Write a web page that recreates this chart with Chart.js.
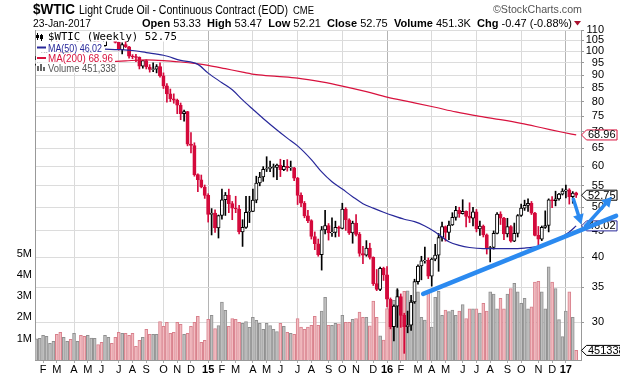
<!DOCTYPE html>
<html>
<head>
<meta charset="utf-8">
<title>$WTIC weekly</title>
<script src="https://cdn.jsdelivr.net/npm/chart.js@4.4.1/dist/chart.umd.min.js"></script>
<style>
  html, body { margin: 0; padding: 0; background: #fff; }
  canvas { display: block; }
</style>
</head>
<body>
<canvas id="chart" width="620" height="376"></canvas>
<script>
const FONT = '"Liberation Sans", Arial, sans-serif';

// weekly bars, first visible week starts Monday 20-Jan-2014
const firstWeek = '2014-01-20';
const prevClose = 94.4;

const opens = [
  94.4, 96.6, 97.5, 99.9, 100.3, 102.2, 102.6, 102.5, 98.9, 99.5,
  101.7, 101.1, 103.7, 104.3, 100.6, 99.8, 100.0, 102.0, 104.4, 102.7,
  102.6, 106.9, 107.3, 105.7, 104.1, 100.8, 103.1, 102.1, 97.9, 97.7,
  97.4, 93.7, 96.0, 93.3, 92.3, 92.4, 93.5, 89.7, 85.8, 82.8,
  81.0, 80.5, 78.7, 75.8, 76.5, 66.2, 65.8, 57.8, 56.5, 54.7,
  52.7, 48.4, 48.7, 45.6, 48.2, 51.7, 52.8, 50.8, 49.8, 49.6,
  44.8, 45.7, 48.9, 49.1, 51.6, 55.7, 57.2, 59.2, 59.4, 59.7,
  59.7, 60.3, 59.1, 60.0, 59.6, 59.6, 56.9, 52.7, 50.9, 48.1,
  47.1, 43.9, 42.5, 40.5, 45.2, 46.1, 44.6, 44.7, 45.7, 45.5,
  49.6, 47.3, 44.6, 46.6, 44.3, 40.7, 40.4, 41.7, 40.0, 35.6,
  34.7, 38.1, 37.0, 33.2, 29.4, 32.2, 33.6, 30.9, 29.4, 29.6,
  32.8, 35.9, 38.5, 39.4, 39.5, 36.8, 39.7, 40.4, 43.7, 45.9,
  44.7, 46.2, 47.8, 49.3, 48.6, 49.1, 48.0, 47.6, 49.0, 45.4,
  46.0, 44.2, 41.6, 41.8, 44.5, 48.5, 47.6, 44.4, 45.9, 43.0,
  44.5, 48.2, 49.8, 50.4, 50.9, 48.7, 44.1, 43.4, 45.7, 46.1,
  51.7, 51.5, 51.9, 53.0, 53.7, 54.0, 52.4, 53.33
];
const highs = [
  97.8, 98.2, 100.0, 100.7, 103.4, 103.0, 105.2, 102.9, 100.5, 102.0,
  101.9, 104.0, 104.9, 104.5, 101.6, 101.0, 102.4, 104.5, 104.6, 104.1,
  107.7, 107.7, 107.5, 106.2, 104.2, 103.9, 105.0, 102.3, 98.6, 98.7,
  97.6, 96.1, 96.3, 94.3, 95.1, 94.3, 95.0, 90.9, 86.7, 84.6,
  82.8, 80.9, 79.5, 77.0, 76.6, 69.7, 66.6, 58.0, 57.7, 55.2,
  53.1, 49.7, 49.4, 48.3, 54.2, 53.4, 54.2, 51.3, 52.5, 50.4,
  47.3, 52.5, 52.5, 54.2, 57.4, 58.4, 59.9, 62.6, 61.4, 60.6,
  60.6, 61.9, 61.6, 61.8, 61.4, 59.7, 57.1, 53.3, 51.3, 49.3,
  47.3, 44.8, 43.4, 45.9, 49.3, 46.5, 47.7, 47.0, 46.0, 50.9,
  49.9, 47.5, 47.0, 48.4, 44.7, 42.0, 43.1, 42.6, 40.1, 37.9,
  38.3, 38.3, 38.4, 33.4, 32.4, 34.8, 34.0, 31.2, 31.5, 33.8,
  36.3, 38.7, 40.2, 41.9, 39.9, 39.9, 42.4, 44.5, 46.8, 46.0,
  47.0, 48.8, 50.2, 50.0, 51.7, 49.2, 51.0, 50.0, 49.5, 47.0,
  46.2, 44.4, 42.0, 45.0, 48.8, 49.0, 47.8, 47.6, 46.1, 46.6,
  48.4, 50.7, 51.6, 51.9, 51.3, 48.9, 45.9, 46.0, 49.2, 51.9,
  52.4, 53.7, 53.2, 54.3, 55.2, 54.3, 53.6, 53.47
];
const lows = [
  94.0, 95.4, 96.4, 98.8, 100.0, 101.3, 101.5, 97.4, 97.9, 98.9,
  98.9, 100.5, 102.8, 100.5, 98.7, 98.6, 99.5, 101.9, 102.3, 101.9,
  102.4, 105.5, 105.3, 103.8, 100.6, 98.9, 101.7, 97.0, 96.8, 95.5,
  92.5, 92.8, 92.5, 91.2, 91.4, 90.9, 89.2, 84.8, 79.8, 80.0,
  79.4, 75.8, 73.8, 73.3, 65.7, 63.7, 57.4, 53.6, 54.5, 52.0,
  46.8, 44.2, 44.7, 43.6, 47.4, 48.2, 48.8, 47.3, 48.8, 44.4,
  42.0, 45.5, 46.7, 49.0, 51.0, 55.0, 56.1, 58.6, 58.6, 57.2,
  56.5, 57.3, 58.8, 58.7, 58.9, 56.3, 50.6, 50.1, 47.7, 46.7,
  43.4, 41.4, 40.2, 37.8, 44.4, 43.2, 43.9, 43.8, 43.9, 45.4,
  45.1, 44.3, 42.6, 44.0, 40.2, 38.9, 40.2, 39.7, 35.3, 34.5,
  34.5, 36.1, 32.1, 29.1, 27.6, 29.3, 29.3, 26.1, 28.6, 28.9,
  32.6, 35.5, 36.2, 39.0, 36.4, 35.2, 39.4, 37.6, 43.0, 43.0,
  43.3, 46.1, 47.2, 47.8, 48.5, 45.8, 46.7, 46.0, 44.8, 44.1,
  43.8, 40.6, 39.2, 41.5, 44.4, 46.3, 43.3, 43.8, 42.8, 42.9,
  43.8, 48.0, 49.3, 49.1, 48.4, 44.0, 42.2, 43.1, 45.5, 44.8,
  49.9, 50.3, 51.6, 52.8, 52.1, 50.7, 50.9, 52.21
];
const closes = [
  96.6, 97.5, 99.9, 100.3, 102.2, 102.6, 102.5, 98.9, 99.5, 101.7,
  101.1, 103.7, 104.3, 100.6, 99.8, 100.0, 102.0, 104.4, 102.7, 102.6,
  106.9, 107.3, 105.7, 104.1, 100.8, 103.1, 102.1, 97.9, 97.7, 97.4,
  93.7, 96.0, 93.3, 92.3, 92.4, 93.5, 89.7, 85.8, 82.8, 81.0,
  80.5, 78.7, 75.8, 76.5, 66.2, 65.8, 57.8, 56.5, 54.7, 52.7,
  48.4, 48.7, 45.6, 48.2, 51.7, 52.8, 50.8, 49.8, 49.6, 44.8,
  45.7, 48.9, 49.1, 51.6, 55.7, 57.2, 59.2, 59.4, 59.7, 59.7,
  60.3, 59.1, 60.0, 59.6, 59.6, 56.9, 52.7, 50.9, 48.1, 47.1,
  43.9, 42.5, 40.5, 45.2, 46.1, 44.6, 44.7, 45.7, 45.5, 49.6,
  47.3, 44.6, 46.6, 44.3, 40.7, 40.4, 41.7, 40.0, 35.6, 34.7,
  38.1, 37.0, 33.2, 29.4, 32.2, 33.6, 30.9, 29.4, 29.6, 32.8,
  35.9, 38.5, 39.4, 39.5, 36.8, 39.7, 40.4, 43.7, 45.9, 44.7,
  46.2, 47.8, 49.3, 48.6, 49.1, 48.0, 47.6, 49.0, 45.4, 46.0,
  44.2, 41.6, 41.8, 44.5, 48.5, 47.6, 44.4, 45.9, 43.0, 44.5,
  48.2, 49.8, 50.4, 50.9, 48.7, 44.1, 43.4, 45.7, 46.1, 51.7,
  51.5, 51.9, 53.0, 53.7, 54.0, 52.4, 53.22, 52.75
];
// weekly volume, millions
const volumes = [
  1.0, 1.02, 1.16, 1.11, 0.78, 0.88, 1.2, 1.3, 1.06, 0.88,
  0.97, 1.25, 0.88, 1.16, 1.11, 1.16, 1.03, 1.02, 0.73, 0.83,
  1.16, 1.06, 0.78, 1.06, 1.3, 1.25, 1.25, 1.16, 1.25, 0.64,
  0.92, 1.06, 1.44, 1.2, 1.2, 1.2, 1.81, 1.58, 1.77, 1.25,
  1.3, 1.77, 1.67, 1.2, 1.25, 1.58, 1.77, 2.05, 0.83, 0.92,
  1.91, 2.1, 1.48, 1.62, 2.72, 2.33, 1.58, 1.95, 1.91, 1.77,
  1.72, 1.81, 1.53, 2.0, 1.86, 1.72, 1.44, 1.72, 1.62, 1.44,
  1.34, 1.72, 1.58, 1.3, 1.25, 1.2, 1.95, 1.55, 1.44, 1.55,
  1.63, 2.05, 1.63, 2.3, 2.94, 1.63, 1.63, 1.72, 1.7, 2.1,
  1.77, 1.77, 1.91, 1.95, 2.25, 2.0, 2.0, 1.6, 2.77, 2.0,
  1.13, 0.94, 2.42, 2.8, 2.8, 3.3, 2.94, 3.22, 3.25, 2.8,
  2.8, 3.2, 2.0, 1.88, 3.22, 1.55, 2.94, 3.22, 2.1, 2.35,
  2.27, 2.35, 2.1, 2.3, 2.6, 1.95, 2.4, 2.4, 2.4, 2.2,
  2.66, 2.3, 3.2, 3.1, 2.4, 2.9, 2.4, 3.1, 3.36, 3.6,
  3.2, 2.66, 2.9, 2.4, 2.5, 3.66, 3.7, 3.2, 2.4, 4.38,
  3.66, 3.36, 1.9, 1.1, 2.3, 3.2, 2.0, 0.451338
];

// moving averages (week index, value)
const ma50Weeks = [20, 24, 28, 32, 37, 42, 47, 50, 54, 57, 60, 63, 66, 70, 73, 76, 80, 83, 86, 89,
  92, 95, 98, 101, 104, 107, 110, 113, 116, 120, 123, 126, 130, 134, 138, 142, 146, 149, 152, 155, 157];
const ma50Values = [101.0, 100.8, 100.4, 99.5, 98.3, 96.1, 94.4, 90.8, 87.0, 84.3, 80.6, 77.3, 74.2, 70.5, 68.0, 65.7, 61.8, 58.5, 56.0, 54.2,
  52.4, 50.8, 49.8, 48.9, 48.1, 47.4, 46.9, 46.0, 44.8, 42.9, 42.2, 41.8, 41.6, 41.6, 41.6, 41.7, 42.0, 42.6, 43.5, 44.8, 46.02];
const ma200Weeks = [20, 26, 32, 37, 42, 46, 50, 55, 60, 64, 70, 76, 83, 89, 96, 102, 109, 116, 122, 129, 135, 141, 147, 153, 157];
const ma200Values = [95.4, 95.9, 96.3, 96.0, 95.4, 94.8, 94.0, 92.6, 91.2, 90.2, 89.5, 88.8, 87.3, 85.7, 83.6, 81.6, 79.8, 78.0, 76.4, 74.9,
  73.8, 72.6, 71.2, 69.8, 68.96];

// month labels starting Feb 2014
const monthLabels = ['F', 'M', 'A', 'M', 'J', 'J', 'A', 'S', 'O', 'N', 'D', '15',
  'F', 'M', 'A', 'M', 'J', 'J', 'A', 'S', 'O', 'N', 'D', '16',
  'F', 'M', 'A', 'M', 'J', 'J', 'A', 'S', 'O', 'N', 'D', '17'];
const priceTicks = [30, 35, 40, 45, 50, 55, 60, 65, 70, 75, 80, 85, 90, 95, 100, 105, 110];
const volumeTicks = [1, 2, 3, 4, 5];

// hand drawn annotations, in (week index, price)
const trendLine = { from: [112.5, 34.0], to: [168.6, 48.1], width: 4.5, head: false };
const arrowDown = { from: [156.2, 51.8], to: [158.5, 46.3], width: 3.5, head: true };
const arrowUp = { from: [159.7, 46.0], to: [167.4, 52.4], width: 3.5, head: true };

const X_MIN = -0.35, X_MAX = 158.4, P_MIN = 25.34, P_MAX = 110, V_MAX = 15.5;
const RED = '#d40a3c', NAVY = '#28289a', MA_RED = '#d8123e', BLUE = '#2b8af0';

const t0 = Date.parse(firstWeek + 'T00:00:00Z');
const monthPos = monthLabels.map((_, m) => Math.ceil((Date.UTC(2014, 1 + m, 1) - t0) / 864e5 / 7));
const up = closes.map((c, j) => c >= opens[j]);
const fall = closes.map((c, j) => c < (j ? closes[j - 1] : prevClose));

function fit(ctx, parts, x0, x1, y) {
  let w = 0;
  parts.forEach(p => { ctx.font = p[1]; w += ctx.measureText(p[0]).width; });
  ctx.save();
  ctx.translate(x0, y);
  ctx.scale((x1 - x0) / w, 1);
  ctx.textBaseline = 'alphabetic';
  ctx.textAlign = 'left';
  let x = 0;
  parts.forEach(p => {
    ctx.font = p[1]; ctx.fillStyle = p[2];
    ctx.fillText(p[0], x, 0);
    x += ctx.measureText(p[0]).width;
  });
  ctx.restore();
}

function tag(ctx, px, py, text, border) {
  ctx.font = '11px ' + FONT;
  const w = ctx.measureText(text).width;
  ctx.beginPath();
  ctx.moveTo(px + 0.5, py);
  ctx.lineTo(px + 5.5, py - 5);
  ctx.lineTo(px + 7 + w + 1.5, py - 5);
  ctx.lineTo(px + 7 + w + 1.5, py + 5);
  ctx.lineTo(px + 5.5, py + 5);
  ctx.closePath();
  ctx.fillStyle = '#fff'; ctx.fill();
  ctx.strokeStyle = border; ctx.lineWidth = 1; ctx.stroke();
  ctx.fillStyle = '#000'; ctx.textBaseline = 'middle'; ctx.textAlign = 'left';
  ctx.fillText(text, px + 7, py + 0.5);
}

function arrow(ctx, a, sx, sy) {
  const x1 = sx.getPixelForValue(a.from[0]), y1 = sy.getPixelForValue(a.from[1]);
  const x2 = sx.getPixelForValue(a.to[0]), y2 = sy.getPixelForValue(a.to[1]);
  const ang = Math.atan2(y2 - y1, x2 - x1), c = Math.cos(ang), s = Math.sin(ang);
  const hl = a.head ? 10 : 0;
  ctx.strokeStyle = BLUE; ctx.fillStyle = BLUE; ctx.lineWidth = a.width; ctx.lineCap = 'round';
  ctx.beginPath();
  ctx.moveTo(x1, y1);
  ctx.lineTo(x2 - hl * 0.7 * c, y2 - hl * 0.7 * s);
  ctx.stroke();
  if (a.head) {
    ctx.beginPath();
    ctx.moveTo(x2, y2);
    ctx.lineTo(x2 - hl * c + 5.5 * s, y2 - hl * s - 5.5 * c);
    ctx.lineTo(x2 - hl * c - 5.5 * s, y2 - hl * s + 5.5 * c);
    ctx.closePath();
    ctx.fill();
  }
}

const decor = {
  id: 'decor',
  afterDraw(chart) {
    const ctx = chart.ctx, sx = chart.scales.x, sy = chart.scales.y, sv = chart.scales.vol;
    const area = chart.chartArea;
    const last = closes.length - 1;
    const B = 'bold 11px ' + FONT, R = '11px ' + FONT;
    ctx.save();
    // header
    fit(ctx, [['$WTIC', 'bold 15px ' + FONT, '#000']], 33, 75, 14);
    fit(ctx, [['Light Crude Oil - Continuous Contract (EOD)', '12px ' + FONT, '#000']], 79, 288, 14);
    fit(ctx, [['CME', '10px ' + FONT, '#000']], 293, 314, 14);
    fit(ctx, [['\u00a9StockCharts.com', '11px ' + FONT, '#555']], 493, 582, 13);
    fit(ctx, [['23-Jan-2017', R, '#000']], 33, 91, 26.5);
    fit(ctx, [
      ['Open', B, '#000'], [' ' + opens[last].toFixed(2) + '  ', R, '#000'],
      ['High', B, '#000'], [' ' + highs[last].toFixed(2) + '  ', R, '#000'],
      ['Low', B, '#000'], [' ' + lows[last].toFixed(2) + '  ', R, '#000'],
      ['Close', B, '#000'], [' ' + closes[last].toFixed(2) + '  ', R, '#000'],
      ['Volume', B, '#000'], [' ' + (volumes[last] * 1000).toFixed(1) + 'K  ', R, '#000'],
      ['Chg', B, '#000'], [' -0.47 (-0.88%)', R, '#000']
    ], 142, 572, 26.5);
    ctx.fillStyle = '#a8102e';
    ctx.beginPath(); ctx.moveTo(574, 21); ctx.lineTo(581, 21); ctx.lineTo(577.5, 25.5); ctx.closePath(); ctx.fill();

    // legend rows on white
    ctx.fillStyle = '#fff';
    ctx.fillRect(36, 31, 142, 10.5);
    ctx.fillRect(36, 41.5, 68, 11);
    ctx.fillRect(36, 52.5, 79, 10);
    ctx.fillRect(36, 62.5, 82, 10.5);
    ctx.fillStyle = '#000';
    ctx.fillRect(37, 33, 1, 7); ctx.fillRect(36, 35, 3, 3);
    ctx.fillRect(41, 34, 1, 7);
    ctx.strokeStyle = '#000'; ctx.lineWidth = 1; ctx.strokeRect(40.5, 35.5, 2, 3);
    fit(ctx, [['$WTIC (Weekly) ' + closes[last].toFixed(2), '10px "DejaVu Sans Mono", monospace', '#000']], 48, 177, 40);
    ctx.fillStyle = NAVY; ctx.fillRect(37, 46.5, 9, 2);
    fit(ctx, [['MA(50) ' + ma50Values[ma50Values.length - 1].toFixed(2), R, NAVY]], 48, 102, 51.5);
    ctx.fillStyle = MA_RED; ctx.fillRect(37, 57, 9, 2);
    fit(ctx, [['MA(200) ' + ma200Values[ma200Values.length - 1].toFixed(2), R, MA_RED]], 48, 113, 62);
    ctx.fillStyle = '#666';
    ctx.fillRect(37, 66, 2, 5); ctx.fillRect(40, 64, 2, 7); ctx.fillRect(43, 67, 2, 4);
    fit(ctx, [['Volume ' + Math.round(volumes[last] * 1e6).toLocaleString('en-US'), R, '#555']], 48, 116, 72);

    // value tags on the right axis
    const ax = area.right;
    tag(ctx, ax, sy.getPixelForValue(ma200Values[ma200Values.length - 1]), ma200Values[ma200Values.length - 1].toFixed(2), MA_RED);
    tag(ctx, ax, sy.getPixelForValue(closes[last]), closes[last].toFixed(2), '#000');
    tag(ctx, ax, sy.getPixelForValue(ma50Values[ma50Values.length - 1]), ma50Values[ma50Values.length - 1].toFixed(2), NAVY);
    tag(ctx, ax, sv.getPixelForValue(volumes[last]), String(Math.round(volumes[last] * 1e6)), '#000');

    // blue annotations
    arrow(ctx, trendLine, sx, sy);
    arrow(ctx, arrowDown, sx, sy);
    arrow(ctx, arrowUp, sx, sy);
    ctx.restore();
  }
};

const idx = closes.map((_, j) => j);

function noPad(s) {
  s.paddingLeft = 0; s.paddingRight = 0; s.paddingTop = 0; s.paddingBottom = 0;
}

new Chart(document.getElementById('chart'), {
  data: {
    datasets: [
      {
        type: 'line', label: 'MA(50)', yAxisID: 'y', order: 1,
        data: ma50Weeks.map((w, k) => ({ x: w, y: ma50Values[k] })),
        borderColor: NAVY, borderWidth: 1.2, pointRadius: 0, cubicInterpolationMode: 'monotone'
      },
      {
        type: 'line', label: 'MA(200)', yAxisID: 'y', order: 1,
        data: ma200Weeks.map((w, k) => ({ x: w, y: ma200Values[k] })),
        borderColor: MA_RED, borderWidth: 1.2, pointRadius: 0, cubicInterpolationMode: 'monotone'
      },
      {
        type: 'bar', label: 'body', yAxisID: 'y', order: 2, grouped: false,
        data: idx.map(j => {
          const lo = Math.min(opens[j], closes[j]), hi = Math.max(opens[j], closes[j]);
          return { x: j, y: [lo, Math.max(hi, lo * 1.003)] };
        }),
        backgroundColor: idx.map(j => up[j] ? '#fff' : RED),
        borderColor: idx.map(j => up[j] ? '#000' : RED),
        borderWidth: 1, borderSkipped: false, barThickness: 3.3
      },
      {
        type: 'bar', label: 'wick', yAxisID: 'y', order: 3, grouped: false,
        data: idx.map(j => ({ x: j, y: [lows[j], highs[j]] })),
        backgroundColor: idx.map(j => up[j] ? '#000' : RED),
        barThickness: 1
      },
      {
        type: 'bar', label: 'Volume', yAxisID: 'vol', order: 4, grouped: false,
        data: idx.map(j => ({ x: j, y: volumes[j] })),
        backgroundColor: idx.map(j => fall[j] ? '#f2bcc1' : '#c0c0c0'),
        borderColor: idx.map(j => fall[j] ? '#d8808c' : '#909090'),
        borderWidth: 1, borderSkipped: 'bottom', barThickness: 3
      }
    ]
  },
  options: {
    responsive: false,
    animation: false,
    events: [],
    layout: { padding: { top: 30, right: 16, left: 0, bottom: 0 } },
    plugins: { legend: { display: false }, tooltip: { enabled: false } },
    scales: {
      x: {
        type: 'linear', min: X_MIN, max: X_MAX, bounds: 'data', offset: false,
        afterBuildTicks: s => { s.ticks = monthPos.map(p => ({ value: p })); s.min = X_MIN; s.max = X_MAX; },
        afterFit: s => { s.height = 16; noPad(s); },
        ticks: {
          autoSkip: false, maxRotation: 0, padding: 0, color: '#000',
          callback: (v, i) => monthLabels[i],
          font: c => ({ family: FONT, size: 11, weight: /^\d/.test(monthLabels[c.index]) ? 'bold' : 'normal' })
        },
        grid: {
          offset: false,
          color: c => {
            const moy = (1 + c.index) % 12;
            if (moy === 0) return '#b4b4b4';
            return moy % 3 === 0 ? '#dadada' : 'rgba(0,0,0,0)';
          },
          tickLength: 3, tickColor: '#aaa'
        },
        border: { color: '#999' }
      },
      y: {
        type: 'logarithmic', position: 'right', min: P_MIN, max: P_MAX,
        afterBuildTicks: s => { s.ticks = priceTicks.map(v => ({ value: v })); s.min = P_MIN; s.max = P_MAX; },
        afterFit: s => { s.width = 23; noPad(s); },
        ticks: { callback: v => String(v), color: '#000', padding: 2, crossAlign: 'far', font: { family: FONT, size: 11 } },
        grid: { color: '#dcdcdc', tickLength: 3, tickColor: '#999' },
        border: { color: '#999' }
      },
      vol: {
        type: 'linear', position: 'left', min: 0, max: V_MAX, bounds: 'data',
        afterBuildTicks: s => { s.ticks = volumeTicks.map(v => ({ value: v })); s.min = 0; s.max = V_MAX; },
        afterFit: s => { s.width = 35; noPad(s); },
        ticks: { callback: v => v + 'M', color: '#000', padding: 3, font: { family: FONT, size: 11 } },
        grid: { display: false, drawTicks: false },
        border: { color: '#999' }
      }
    }
  },
  plugins: [decor]
});
</script>
</body>
</html>
